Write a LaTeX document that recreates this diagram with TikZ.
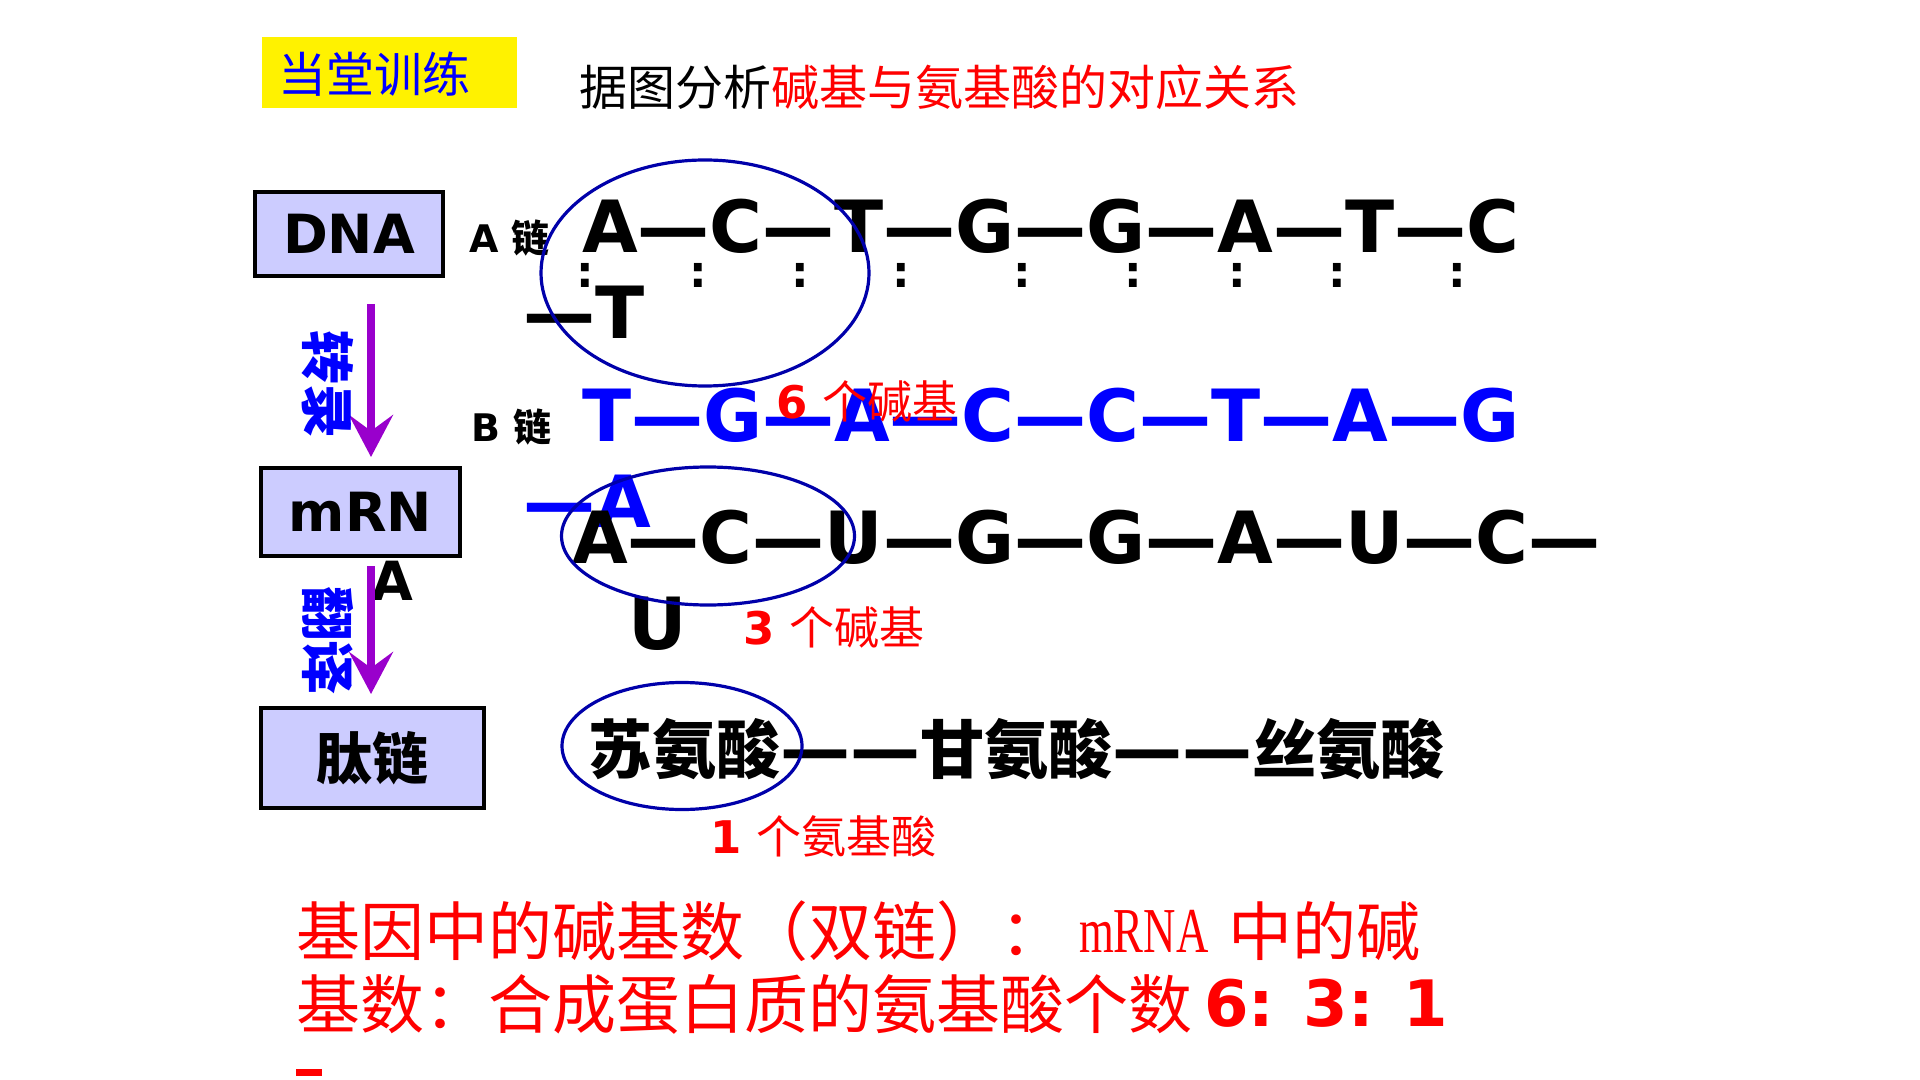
\documentclass[tikz,border=0pt]{standalone}
\usepackage{fontspec}
\setmainfont{DejaVu Sans}
\newfontfamily\cjk{Noto Sans CJK SC}
\newfontfamily\serifm[FakeStretch=0.7]{Liberation Serif}
\usetikzlibrary{arrows.meta,shapes.geometric}

\definecolor{lav}{RGB}{204,204,255}
\definecolor{pur}{RGB}{153,0,204}
\definecolor{eblue}{RGB}{0,0,170}
\definecolor{tblue}{RGB}{0,0,255}
\definecolor{tred}{RGB}{255,0,0}
\definecolor{yel}{RGB}{255,242,0}
\newcommand{\fsz}[1]{\fontsize{#1}{#1}\selectfont}
\newcommand{\pdash}{{\fontspec{DejaVu Sans}\fsz{35}\bfseries ——}}

\begin{document}
\begin{tikzpicture}[x=0.5pt,y=-0.5pt,
  every node/.style={inner sep=0pt, outer sep=0pt},
  box/.style={draw=black, line width=1.6pt, fill=lav},
  ring/.style={draw=eblue, line width=1.6pt, ellipse},
  chain/.style={anchor=base west, font=\fsz{36}\bfseries},
  arr/.style={draw=pur, line width=4pt, -{Stealth[length=21pt,width=22pt,inset=8pt]}},
  vlab/.style={rotate=-90, text=tblue, font=\fsz{27}\cjk\bfseries},
  rlab/.style={anchor=west, text=tred},
  btxt/.style={anchor=west, text=tred, font=\fsz{32}\cjk},
]
\fill[white] (0,0) rectangle (1920,1080);
\useasboundingbox (0,0) rectangle (1920,1080);

% header
\node[fill=yel, minimum width=127.5pt, minimum height=35.5pt] (tag) at (389.5,72.5) {};
\node[text=tblue, font=\fsz{24}\cjk] (tagtxt) at (374,74) {当堂训练};
\node[anchor=west, font=\fsz{24}\cjk] (title) at (579,87) {据图分析\textcolor{tred}{碱基与氨基酸的对应关系}};

% left boxes
\node[box, minimum width=94pt, minimum height=42pt, font=\fsz{27}\bfseries] (dna) at (349,234) {DNA};
\node[box, minimum width=99.5pt, minimum height=44pt, font=\fsz{27}\bfseries] (mrna) at (360.5,512) {mRN};
\node[anchor=base, font=\fsz{27}\bfseries] (mrnaA) at (392,600) {A};
\node[box, minimum width=111.5pt, minimum height=50pt, font=\fsz{28}\cjk\bfseries] (pep) at (372.5,758) {肽链};

% arrows
\coordinate (a1s) at (371,304);
\coordinate (a1e) at (371,457);
\coordinate (a2s) at (371,566);
\coordinate (a2e) at (371,694);
\draw[arr] (a1s) -- (a1e);
\draw[arr] (a2s) -- (a2e);
\node[vlab] (zl) at (328,384) {转录};
\node[vlab] (fy) at (328,640) {翻译};

% strand labels
\node[anchor=base west, font=\fsz{19}\bfseries] (alab) at (469,253) {A {\cjk 链}};
\node[anchor=base west, font=\fsz{19}\bfseries] (blab) at (471,441) {B {\cjk 链}};

% chains
\node[chain] (achain) at (582,253) {A—C—T—G—G—A—T—C};
\node[chain] (achain2) at (523,339) {—T};
\foreach \x [count=\i] in {585,698,800,901,1022,1133,1237,1337,1457}
  \node[anchor=base, font=\fsz{22}\bfseries] (col\i) at (\x,288) {:};
\node[chain, text=tblue] (bchain) at (582,441) {T—G—A—C—C—T—A—G};
\node[chain, text=tblue] (bchain2) at (523,527) {—A};
\node[chain] (mchain) at (572,563) {A—C—U—G—G—A—U—C—};
\node[chain] (mchain2) at (628,649) {U};
\node[anchor=west, font=\fsz{32}\cjk\bfseries] (pchain) at (588,749) {苏氨酸\pdash 甘氨酸\pdash 丝氨酸};

% rings
\node[ring, minimum width=164pt, minimum height=113pt] (e1) at (705,273) {};
\node[ring, minimum width=146.5pt, minimum height=69pt] (e2) at (708,536) {};
\node[ring, minimum width=120pt, minimum height=63.5pt] (e3) at (682,746) {};

% red labels
\node[rlab] (six) at (776,401) {{\fsz{22.5}\bfseries 6 }{\fsz{22.5}\cjk 个碱基}};
\node[rlab] (three) at (743,627) {{\fsz{22.5}\bfseries 3 }{\fsz{22.5}\cjk 个碱基}};
\node[rlab] (one) at (710,836) {{\fsz{22.5}\bfseries 1 }{\fsz{22.5}\cjk 个氨基酸}};

% bottom text
\node[btxt] (l1a) at (296,931) {基因中的碱基数（双链）：};
\node[anchor=west, text=tred, font=\fsz{32}\serifm] (l1b) at (1079,931) {mRNA};
\node[btxt] (l1c) at (1228,931) {中的碱};
\node[btxt] (l2a) at (296,1004) {基数：合成蛋白质的氨基酸个数};
\node[anchor=base west, text=tred, font=\fsz{32}\bfseries] (l2b) at (1204,1026) {6: 3: 1};
\fill[tred] (296,1069) rectangle (322,1076);
\end{tikzpicture}
\end{document}
